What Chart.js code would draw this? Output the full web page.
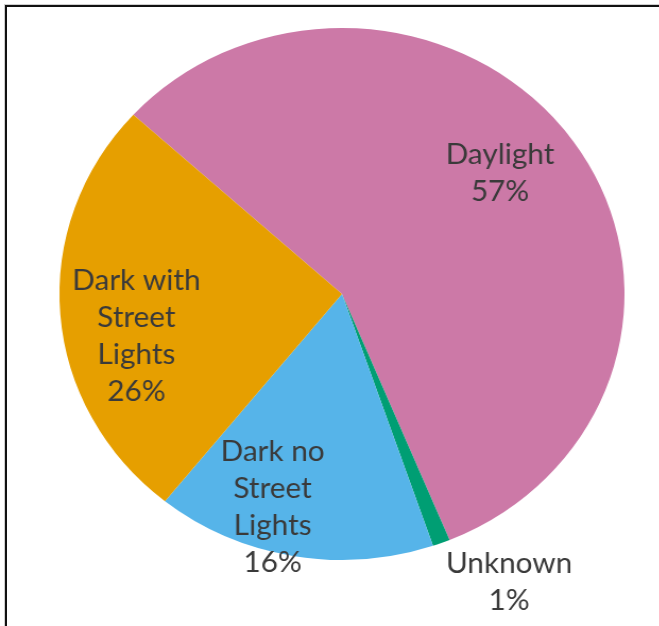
<!DOCTYPE html>
<html>
<head>
<meta charset="utf-8">
<script src="https://cdn.jsdelivr.net/npm/chart.js@4.4.1/dist/chart.umd.min.js"></script>
<style>
  html, body { margin: 0; padding: 0; background: #fff; overflow: hidden; }
  #frame {
    position: absolute; left: 5px; top: 5px; width: 700px; height: 700px;
    border-top: 2px solid #111; border-left: 2px solid #111;
    box-shadow: -1px -1px 0 #cfcfcf;
  }
  #wrap {
    position: absolute; left: 0; top: 0; width: 620px; height: 626px;
    transform: scaleX(1.062); transform-origin: 0 0;
  }
</style>
</head>
<body>
<div id="frame"></div>
<div id="wrap"><canvas id="lightPie"></canvas></div>
<script>
// lighting conditions, share of crashes
const categories = ['Daylight', 'Unknown', 'Dark no Street Lights', 'Dark with Street Lights'];
const values = [57, 1, 16, 26];
const sliceColors = ['#CC79A7', '#009E73', '#56B4E9', '#E69F00'];
const labelLines = [['Daylight'], ['Unknown'], ['Dark no', 'Street', 'Lights'], ['Dark with', 'Street', 'Lights']];

// label placement: nudge from the slice bisector (deg) and distance as share of radius
const labelShift = [-4, -8, 7, -8];
const labelRadius = [0.72, 1.236, 0.84, 0.745];

const sliceLabels = {
    id: 'sliceLabels',
    afterDatasetsDraw(chart) {
        const ctx = chart.ctx;
        const meta = chart.getDatasetMeta(0);
        const total = values.reduce((a, b) => a + b, 0);
        ctx.save();
        ctx.font = '28px Lato';
        ctx.fillStyle = '#3a3a3a';
        ctx.textAlign = 'center';
        ctx.textBaseline = 'middle';
        meta.data.forEach((arc, i) => {
            const p = arc.getProps(['x', 'y', 'startAngle', 'endAngle', 'outerRadius'], true);
            const a = (p.startAngle + p.endAngle) / 2 + labelShift[i] * Math.PI / 180;
            const r = p.outerRadius * labelRadius[i];
            const x = p.x + Math.cos(a) * r;
            const y = p.y + Math.sin(a) * r;
            const lines = labelLines[i].concat(Math.round(values[i] / total * 100) + '%');
            const lh = 37;
            lines.forEach((t, j) => {
                ctx.fillText(t, x, y + (j - (lines.length - 1) / 2) * lh);
            });
        });
        ctx.restore();
    }
};

const lightPie = new Chart(
    document.getElementById('lightPie'),
    {
        type: 'pie',
        data: {
            labels: categories,
            datasets: [{
                data: values,
                backgroundColor: sliceColors,
                borderWidth: 0
            }]
        },
        options: {
            responsive: true,
            maintainAspectRatio: false,
            animation: false,
            rotation: -47.6,
            layout: { padding: { left: 56, right: 32, top: 28, bottom: 66 } },
            plugins: {
                legend: { display: false },
                tooltip: { enabled: false }
            }
        },
        plugins: [sliceLabels]
    }
);
</script>
</body>
</html>
